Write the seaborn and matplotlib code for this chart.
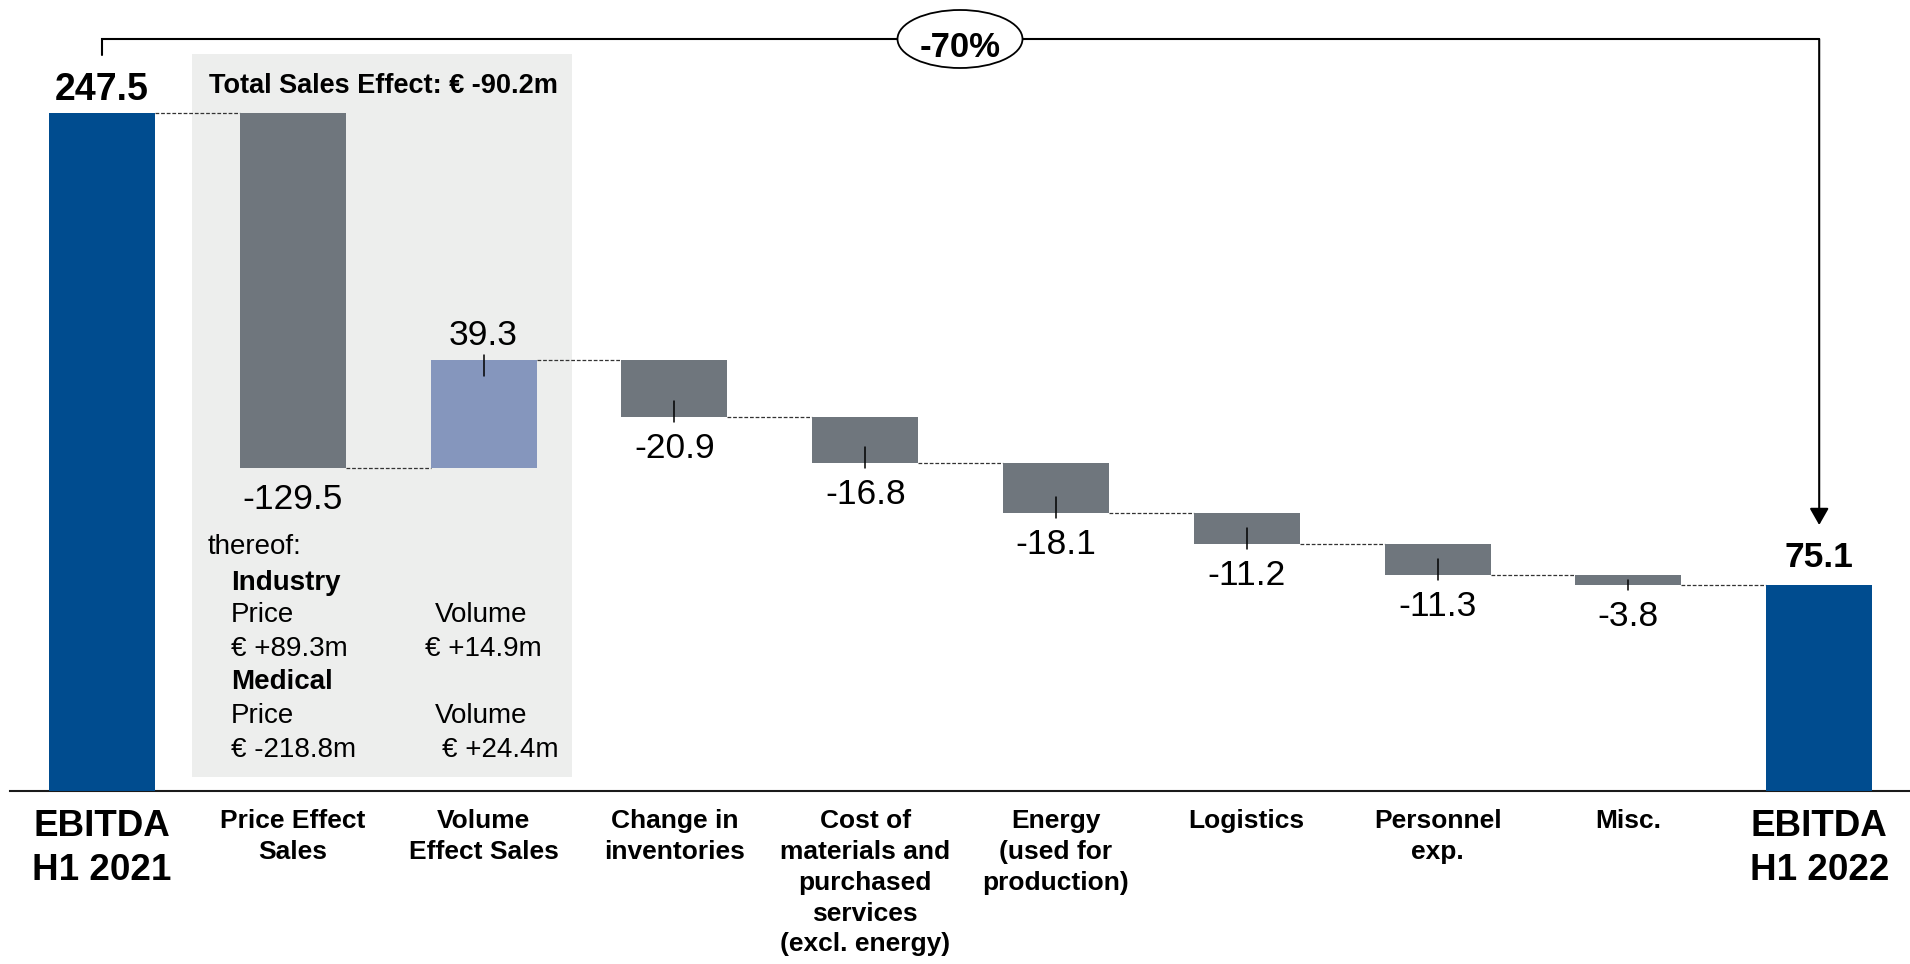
import matplotlib
matplotlib.use("Agg")
import matplotlib.pyplot as plt
from matplotlib.patches import Ellipse, Rectangle
import pandas as pd
import seaborn as sns

# ---------------- data ----------------
categories = ["EBITDA\nH1 2021", "Price Effect\nSales", "Volume\nEffect Sales",
              "Change in\ninventories",
              "Cost of\nmaterials and\npurchased\nservices\n(excl. energy)",
              "Energy\n(used for\nproduction)", "Logistics", "Personnel\nexp.",
              "Misc.", "EBITDA\nH1 2022"]
start_value = 247.5
deltas = [-129.5, 39.3, -20.9, -16.8, -18.1, -11.2, -11.3, -3.8]
end_value = 75.1
change_label = "-70%"
total_sales_effect = "Total Sales Effect: € -90.2m"
industry_price = "€ +89.3m"
industry_volume = "€ +14.9m"
medical_price = "€ -218.8m"
medical_volume = "€ +24.4m"

# ---------------- style ----------------
BLUE = "#004C8F"
GREY = "#6F767D"
LIGHT = "#8596BD"
PANEL = "#EDEEED"

W, H = 1910, 964
BASE_PX = 791      # pixel row of the zero line
PPU = 2.739        # pixels per unit
STEP = 190.8       # pixels per category
X0PX = 102         # pixel column of first category
BAR_W = 0.555

sns.set_theme(style="white")
plt.rcParams["font.family"] = ["Liberation Sans", "DejaVu Sans"]
plt.rcParams["text.color"] = "black"

# ---------------- waterfall geometry ----------------
bottoms, heights, levels = [0.0], [start_value], [start_value]
running = start_value
for d in deltas:
    new = running + d
    bottoms.append(min(running, new))
    heights.append(abs(d))
    running = new
    levels.append(running)
bottoms.append(0.0)
heights.append(end_value)
levels.append(end_value)

colors = [BLUE] + [LIGHT if d > 0 else GREY for d in deltas] + [BLUE]
df = pd.DataFrame({"cat": categories, "height": heights})

fig = plt.figure(figsize=(W / 100, H / 100), dpi=100)
fig.patch.set_facecolor("white")
ax = fig.add_axes([0, (H - BASE_PX) / H, 1, BASE_PX / H])

sns.barplot(data=df, x="cat", y="height", hue="cat", order=categories,
            hue_order=categories, palette=colors, saturation=1, width=BAR_W,
            legend=False, linewidth=0, ax=ax, zorder=3)
for patch in ax.patches:
    i = int(round(patch.get_x() + patch.get_width() / 2))
    patch.set_y(bottoms[i])

xlo, xhi = -X0PX / STEP, (W - X0PX) / STEP
ax.set_xlim(xlo, xhi)
ax.set_ylim(0, BASE_PX / PPU)
ax.set_xlabel("")
ax.set_ylabel("")
ax.set_yticks([])
ax.set_facecolor("none")
for s in ["top", "right", "left"]:
    ax.spines[s].set_visible(False)
ax.spines["bottom"].set_color("#1a1a1a")
ax.spines["bottom"].set_linewidth(1.5)
ax.spines["bottom"].set_bounds(xlo + 10 / STEP, xhi)

ax.set_xticks(range(len(categories)))
ax.set_xticklabels(categories, fontweight="bold", fontsize=19, color="black")
ax.tick_params(axis="x", length=0, pad=13)
labels = ax.get_xticklabels()
for lab in labels:
    lab.set_linespacing(1.36)
for i in (0, len(categories) - 1):
    labels[i].set_fontsize(26.5)
    labels[i].set_linespacing(1.33)

# grey panel behind the sales effect bars
px2y = lambda p: (BASE_PX - p) / PPU
px2x = lambda p: (p - X0PX) / STEP
ax.add_patch(Rectangle((px2x(192), px2y(777)), px2x(572) - px2x(192),
                       px2y(54) - px2y(777), facecolor=PANEL, edgecolor="none",
                       zorder=0))

# connectors
hw = BAR_W / 2
for i in range(len(categories) - 1):
    ax.plot([i + hw, i + 1 - hw], [levels[i], levels[i]], color="#333333",
            lw=0.9, ls=(0, (3.0, 1.5)), zorder=2)

# small markers and value labels on delta bars
tick_in, tick_out, gap = 16 / PPU, 5 / PPU, 15 / PPU
for k, d in enumerate(deltas):
    i = k + 1
    top = bottoms[i] + heights[i]
    mid = bottoms[i] + heights[i] / 2
    txt = f"{d:.1f}"
    if d > 0:
        if i != 1:
            ax.plot([i, i], [max(top - tick_in, mid), top + tick_out],
                    color="black", lw=1.1, zorder=4)
        ax.text(i, top + gap, txt, ha="center", va="baseline", fontsize=25.5)
    else:
        if i != 1:
            ax.plot([i, i], [min(bottoms[i] + tick_in, mid), bottoms[i] - tick_out],
                    color="black", lw=1.1, zorder=4)
        ax.text(i, bottoms[i] - gap, txt, ha="center", va="top", fontsize=25.5)

# total labels
ax.text(0, start_value + 13 / PPU, f"{start_value:.1f}", ha="center",
        va="baseline", fontsize=27, fontweight="bold")
ax.text(len(categories) - 1, end_value + 18 / PPU, f"{end_value:.1f}",
        ha="center", va="baseline", fontsize=25.5, fontweight="bold")

# bracket with arrow and percentage
last = len(categories) - 1
yb = px2y(39)
ax.plot([0, 0, last], [px2y(55), yb, yb], color="black", lw=1.5,
        solid_joinstyle="miter", clip_on=False, zorder=5)
ax.annotate("", xy=(last, px2y(525)), xytext=(last, yb),
            arrowprops=dict(arrowstyle="-|>,head_length=0.35,head_width=0.2",
                            mutation_scale=29, lw=1.5, color="black",
                            shrinkA=0, shrinkB=0), zorder=5)
ax.add_patch(Ellipse((px2x(960), yb), 125 / STEP, 58 / PPU, facecolor="white",
                     edgecolor="black", lw=1.3, zorder=6, clip_on=False))
ax.text(px2x(960), px2y(57), change_label, ha="center", va="baseline",
        fontsize=25, fontweight="bold", zorder=7)

# breakdown text block
def ftxt(xp, yp, s, **kw):
    fig.text(xp / W, 1 - yp / H, s, va="baseline", ha="left", **kw)

ftxt(209, 93, total_sales_effect, fontsize=19.5, fontweight="bold")
ftxt(208, 554, "thereof:", fontsize=20)
ftxt(231, 590, "Industry", fontsize=20, fontweight="bold")
ftxt(231, 622, "Price", fontsize=20)
ftxt(435, 622, "Volume", fontsize=20)
ftxt(231, 656, industry_price, fontsize=20)
ftxt(425, 656, industry_volume, fontsize=20)
ftxt(231, 689, "Medical", fontsize=20, fontweight="bold")
ftxt(231, 723, "Price", fontsize=20)
ftxt(435, 723, "Volume", fontsize=20)
ftxt(231, 757, medical_price, fontsize=20)
ftxt(442, 757, medical_volume, fontsize=20)

fig.savefig("out.png", dpi=100, facecolor="white")
